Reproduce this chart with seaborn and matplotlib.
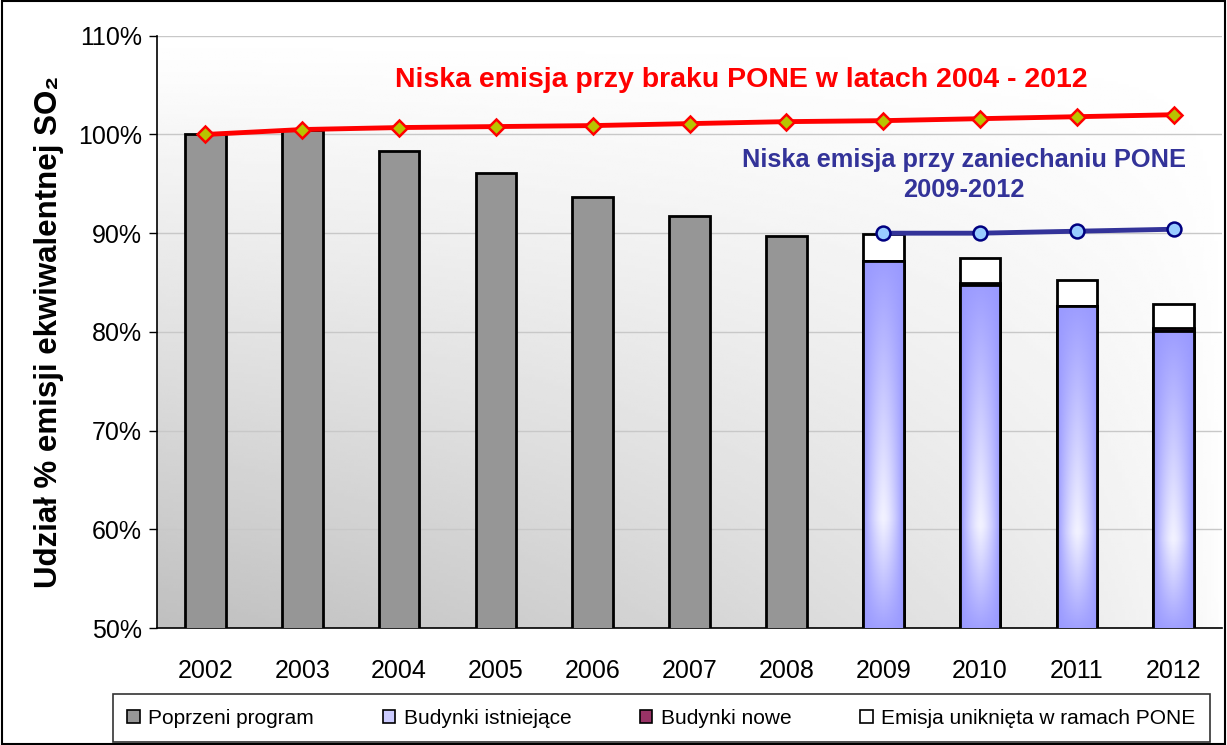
"""
Udział % emisji ekwiwalentnej SO2 - wykres słupkowy z liniami
"""
import matplotlib
matplotlib.use("Agg")
import matplotlib.pyplot as plt
import seaborn as sns
import numpy as np
import pandas as pd
from matplotlib.patches import Rectangle, Patch

# Dane
years = ["2002", "2003", "2004", "2005", "2006", "2007", "2008",
         "2009", "2010", "2011", "2012"]
poprzeni_program = [100.0, 100.5, 98.3, 96.1, 93.7, 91.7, 89.7, 0, 0, 0, 0]
budynki_istniejace = [0, 0, 0, 0, 0, 0, 0, 87.2, 84.8, 82.6, 80.1]
budynki_nowe = [0, 0, 0, 0, 0, 0, 0, 0.0, 0.2, 0.05, 0.25]
emisja_unikniety = [0, 0, 0, 0, 0, 0, 0, 2.7, 2.5, 2.6, 2.5]
brak_pone = [100.0, 100.5, 100.7, 100.8, 100.9, 101.1, 101.3, 101.4, 101.6, 101.8, 102.0]
zaniechanie_years = ["2009", "2010", "2011", "2012"]
zaniechanie_pone = [90.0, 90.0, 90.2, 90.4]

df = pd.DataFrame({
    "rok": years,
    "poprzeni": poprzeni_program,
    "istniejace": budynki_istniejace,
    "nowe": budynki_nowe,
    "uniknieta": emisja_unikniety,
})
# Wartości skumulowane (rysowane od najwyższej warstwy)
df["ist_nowe"] = df["istniejace"] + df["nowe"]
df["total"] = df["ist_nowe"] + df["uniknieta"]

sns.set_style("white")
plt.rcParams["font.family"] = ["Liberation Sans", "DejaVu Sans"]
plt.rcParams.update({"text.color": "black", "axes.labelcolor": "black",
                     "xtick.color": "black", "ytick.color": "black"})

fig = plt.figure(figsize=(12.27, 7.45), dpi=100)
ax = fig.add_axes([0.128, 0.157, 0.868, 0.795])

# Tło obszaru wykresu - gradient (ciemniej w lewym dolnym rogu)
gx, gy = np.meshgrid(np.linspace(0, 1, 300), np.linspace(0, 1, 200))
shade = 1 - 0.25 * (1 - gx) ** 0.6 * gy ** 1.1
ax.imshow(shade, cmap="gray", vmin=0, vmax=1, extent=[0, 1, 0, 1],
          transform=ax.transAxes, aspect="auto", zorder=0, origin="upper")

bar_kw = dict(width=0.42, edgecolor="black", linewidth=2, zorder=3, ax=ax)
sns.barplot(data=df, x="rok", y="total", color="white", saturation=1, **bar_kw)
sns.barplot(data=df, x="rok", y="ist_nowe", color="#993366", saturation=1, **bar_kw)
n_before = len(ax.patches)
sns.barplot(data=df, x="rok", y="istniejace", color="#9999FF", saturation=1, **bar_kw)
blue_patches = ax.patches[n_before:]
sns.barplot(data=df, x="rok", y="poprzeni", color="#969696", saturation=1, **bar_kw)

# Gradient w niebieskich słupkach (jaśniejszy środek)
vert = np.concatenate([np.linspace(0.05, 1, 70), np.linspace(1, 0.1, 30)])[:, None]
horiz = (1 - np.abs(np.linspace(-1, 1, 40)) ** 1.5)[None, :]
grad = vert * horiz
blue_cmap = matplotlib.colors.LinearSegmentedColormap.from_list("b", ["#9999FF", "#F2F2FF"])
for p in blue_patches:
    if p.get_height() <= 0:
        continue
    x0, w = p.get_x(), p.get_width()
    im = ax.imshow(grad, cmap=blue_cmap, vmin=0, vmax=1, aspect="auto",
                   extent=[x0, x0 + w, 50, p.get_height()], origin="upper", zorder=3.5)
    im.set_clip_path(p)
    ax.add_patch(Rectangle((x0, 0), w, p.get_height(), fill=False,
                           edgecolor="black", linewidth=2, zorder=4))

# Linie
pos = np.arange(len(years))
sns.lineplot(x=pos, y=brak_pone, color="#FF0000", linewidth=3.5, marker="D",
             markersize=8, markerfacecolor="#B8C400", markeredgecolor="#FF0000",
             markeredgewidth=1.8, zorder=6, ax=ax)
pos_z = np.array([years.index(y) for y in zaniechanie_years])
sns.lineplot(x=pos_z, y=zaniechanie_pone, color="#333399", linewidth=3.5, marker="o",
             markersize=10, markerfacecolor="#99CCFF", markeredgecolor="#000080",
             markeredgewidth=1.8, zorder=6, ax=ax)

ax.text(5.53, 105.5, "Niska emisja przy braku PONE w latach 2004 - 2012",
        color="#FF0000", fontsize=20.5, fontweight="bold", ha="center", va="center", zorder=7)
ax.text(7.83, 95.9, "Niska emisja przy zaniechaniu PONE\n2009-2012",
        color="#333399", fontsize=18.3, fontweight="bold", ha="center", va="center",
        linespacing=1.3, zorder=7)

# Osie
ax.set_ylim(50, 110)
ax.set_xlim(-0.5, len(years) - 0.5)
ax.set_yticks(np.arange(50, 111, 10))
ax.set_yticklabels([f"{v}%" for v in range(50, 111, 10)], fontsize=18)
ax.yaxis.grid(True, color="#C8C8C8", linewidth=1, zorder=1)
ax.set_axisbelow(True)
ax.tick_params(axis="x", which="major", length=0, labelsize=18, pad=22)
ax.set_xticks(np.arange(-0.5, len(years), 1), minor=True)
ax.tick_params(axis="x", which="minor", length=7, width=1, direction="out", color="black")
ax.tick_params(axis="y", length=6, width=1, direction="out", color="black", left=True, pad=5)
ax.set_xlabel("")
ax.set_ylabel("Udział % emisji ekwiwalentnej SO₂", fontsize=22.5, fontweight="bold", labelpad=10)
for s in ["top", "right"]:
    ax.spines[s].set_visible(False)
for s in ["left", "bottom"]:
    ax.spines[s].set_color("black")
    ax.spines[s].set_linewidth(1.2)

# Legenda
handles = [
    Patch(facecolor="#969696", edgecolor="black", linewidth=1.2, label="Poprzeni program"),
    Patch(facecolor="#CCCCFF", edgecolor="black", linewidth=1.2, label="Budynki istniejące"),
    Patch(facecolor="#993366", edgecolor="black", linewidth=1.2, label="Budynki nowe"),
    Patch(facecolor="white", edgecolor="black", linewidth=1.2, label="Emisja uniknięta w ramach PONE"),
]
leg = fig.legend(handles=handles, loc="center", bbox_to_anchor=(0.539, 0.036),
                 ncol=4, fontsize=15, frameon=True, fancybox=False,
                 edgecolor="black", handlelength=0.6, handleheight=0.6,
                 handletextpad=0.4, columnspacing=3.3, borderpad=0.7, borderaxespad=0)
leg.get_frame().set_linewidth(1.2)

# Ramka wokół całego rysunku
fig.patches.append(Rectangle((0.002, 0.002), 0.996, 0.996, transform=fig.transFigure,
                             fill=False, edgecolor="black", linewidth=1.5))

fig.savefig("out.png", dpi=100)
